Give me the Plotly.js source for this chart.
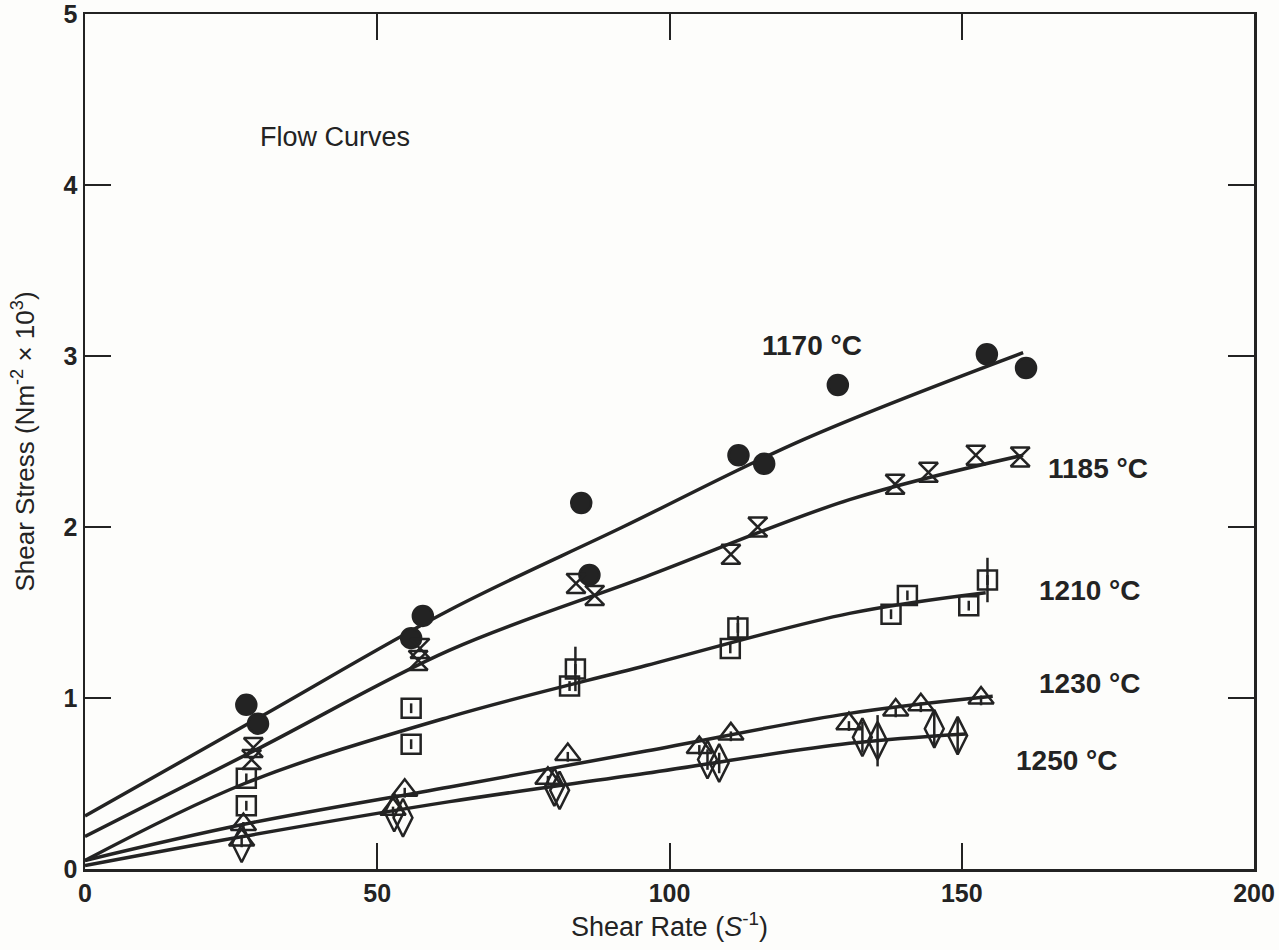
<!DOCTYPE html>
<html>
<head>
<meta charset="utf-8">
<script src="https://cdn.plot.ly/plotly-3.0.1.min.js"></script>
<style>html,body{margin:0;padding:0;background:#fdfdfb;}#chart{width:1279px;height:950px;}</style>
</head>
<body>
<div id="chart"></div>
<script>
// Measured points (shear rate, shear stress x10^3)
const x1170 = [27.6, 29.6, 55.8, 57.8, 84.9, 86.3, 111.8, 116.2, 128.8, 154.3, 161.0];
const y1170 = [0.96, 0.85, 1.35, 1.48, 2.14, 1.72, 2.42, 2.37, 2.83, 3.01, 2.93];

const x1185 = [28.8, 28.5, 57.3, 57.0, 84.0, 87.2, 110.5, 115.1, 138.6, 144.3, 152.4, 160.0];
const y1185 = [0.71, 0.64, 1.29, 1.22, 1.67, 1.60, 1.84, 2.00, 2.25, 2.32, 2.42, 2.41];

const x1210 = [27.6, 27.6, 55.8, 55.8, 83.9, 82.9, 111.7, 110.4, 137.9, 140.7, 151.2, 154.4];
const y1210 = [0.53, 0.37, 0.94, 0.73, 1.17, 1.07, 1.41, 1.29, 1.49, 1.60, 1.54, 1.69];
const e1210 = [0, 0, 0, 0, 0.13, 0, 0.07, 0, 0, 0, 0, 0.13];

const x1230 = [27.1, 26.8, 54.7, 52.7, 82.6, 79.2, 110.5, 105.1, 130.7, 138.7, 143.0, 153.3];
const y1230 = [0.26, 0.17, 0.46, 0.35, 0.67, 0.53, 0.79, 0.71, 0.85, 0.93, 0.96, 1.00];

const x1250 = [26.8, 54.4, 52.9, 80.3, 81.2, 106.5, 108.5, 133.0, 135.6, 145.3, 149.3];
const y1250 = [0.15, 0.30, 0.33, 0.48, 0.46, 0.64, 0.62, 0.77, 0.75, 0.82, 0.78];
const e1250 = [0, 0, 0, 0, 0, 0.06, 0.06, 0.09, 0.15, 0.11, 0.10];

// Flow curves
const fx1170 = [0, 30, 62.4, 92, 122.8, 160.5];
const fy1170 = [0.31, 0.89, 1.515, 2.0, 2.51, 3.02];
const fx1185 = [0, 30, 62.4, 96, 130.8, 160.5];
const fy1185 = [0.19, 0.71, 1.28, 1.71, 2.16, 2.42];
const fx1210 = [0, 27.3, 62.4, 96, 130.8, 154.1];
const fy1210 = [0.05, 0.50, 0.89, 1.19, 1.495, 1.616];
const fx1230 = [0, 27, 62.4, 96, 130.8, 155.3];
const fy1230 = [0.05, 0.26, 0.48, 0.69, 0.91, 1.01];
const fx1250 = [0, 27, 62.4, 96, 130.8, 150.7];
const fy1250 = [0.02, 0.19, 0.394, 0.56, 0.735, 0.79];

const labels = ["1170 °C", "1185 °C", "1210 °C", "1230 °C", "1250 °C"];
const labelX = [124.3, 173.3, 172, 172, 168];
const labelY = [3.06, 2.34, 1.63, 1.086, 0.637];
const xTicks = [0, 50, 100, 150, 200];
const yTicks = [0, 1, 2, 3, 4, 5];

const INK = '#232323';
const FONT = 'Liberation Sans, Arial, Helvetica, sans-serif';

function curve(x, y) {
  return {x: x, y: y, mode: 'lines', type: 'scatter', line: {color: INK, width: 3.5, shape: 'spline', smoothing: 1}, hoverinfo: 'skip'};
}
function pts(x, y, symbol, size, err) {
  const t = {x: x, y: y, mode: 'markers', type: 'scatter',
    marker: {symbol: symbol, size: size, color: INK, line: {color: INK, width: 2.5}}};
  if (err) t.error_y = {type: 'data', array: err, visible: true, color: INK, thickness: 2.5, width: 0};
  return t;
}
function ticks(x, y) {
  return {x: x, y: y, mode: 'markers', type: 'scatter',
    marker: {symbol: 'line-ns-open', size: 7, color: INK, line: {color: INK, width: 2.5}}, hoverinfo: 'skip'};
}

const data = [
  curve(fx1170, fy1170), curve(fx1185, fy1185), curve(fx1210, fy1210),
  curve(fx1230, fy1230), curve(fx1250, fy1250),
  pts(x1170, y1170, 'circle', 20),
  pts(x1185, y1185, 'hourglass-open', 19),
  pts(x1210, y1210, 'square-open', 19, e1210), ticks(x1210, y1210),
  pts(x1230, y1230, 'triangle-up-open', 22), ticks(x1230, y1230.map(v => v - 0.014)),
  pts(x1250, y1250, 'diamond-tall-open', 27, e1250)
];

const annotations = labels.map((t, i) => ({
  x: labelX[i], y: labelY[i], xref: 'x', yref: 'y', text: t, showarrow: false,
  font: {family: FONT, size: 28, color: INK, weight: 'bold'}
}));
annotations.push({x: 42.7, y: 4.28, xref: 'x', yref: 'y', text: 'Flow Curves', showarrow: false,
  font: {family: FONT, size: 27, color: INK}});

const axisCommon = {
  showgrid: false, zeroline: false, showline: true, linecolor: INK, linewidth: 2.5,
  mirror: 'ticks', ticks: 'inside', ticklen: 26, tickwidth: 2, tickcolor: INK,
  ticklabeloverflow: 'allow',
  tickfont: {family: FONT, size: 25, color: INK, weight: 'bold'}, fixedrange: true
};

const layout = {
  width: 1279, height: 950,
  margin: {l: 85, r: 25, t: 14, b: 81},
  paper_bgcolor: '#fdfdfb', plot_bgcolor: '#fdfdfb',
  showlegend: false,
  xaxis: Object.assign({}, axisCommon, {
    range: [0, 200], tickvals: xTicks, ticktext: xTicks.map(String),
    title: {text: 'Shear Rate (<i>S</i><sup>-1</sup>)', font: {family: FONT, size: 27, color: INK}, standoff: 12}
  }),
  yaxis: Object.assign({}, axisCommon, {
    range: [0, 5], tickvals: yTicks, ticktext: yTicks.map(String),
    title: {text: 'Shear Stress (Nm<sup>-2</sup> × 10<sup>3</sup>)', font: {family: FONT, size: 26, color: INK}, standoff: 22}
  }),
  annotations: annotations
};

Plotly.newPlot('chart', data, layout, {displayModeBar: false, staticPlot: true});
</script>
</body>
</html>
